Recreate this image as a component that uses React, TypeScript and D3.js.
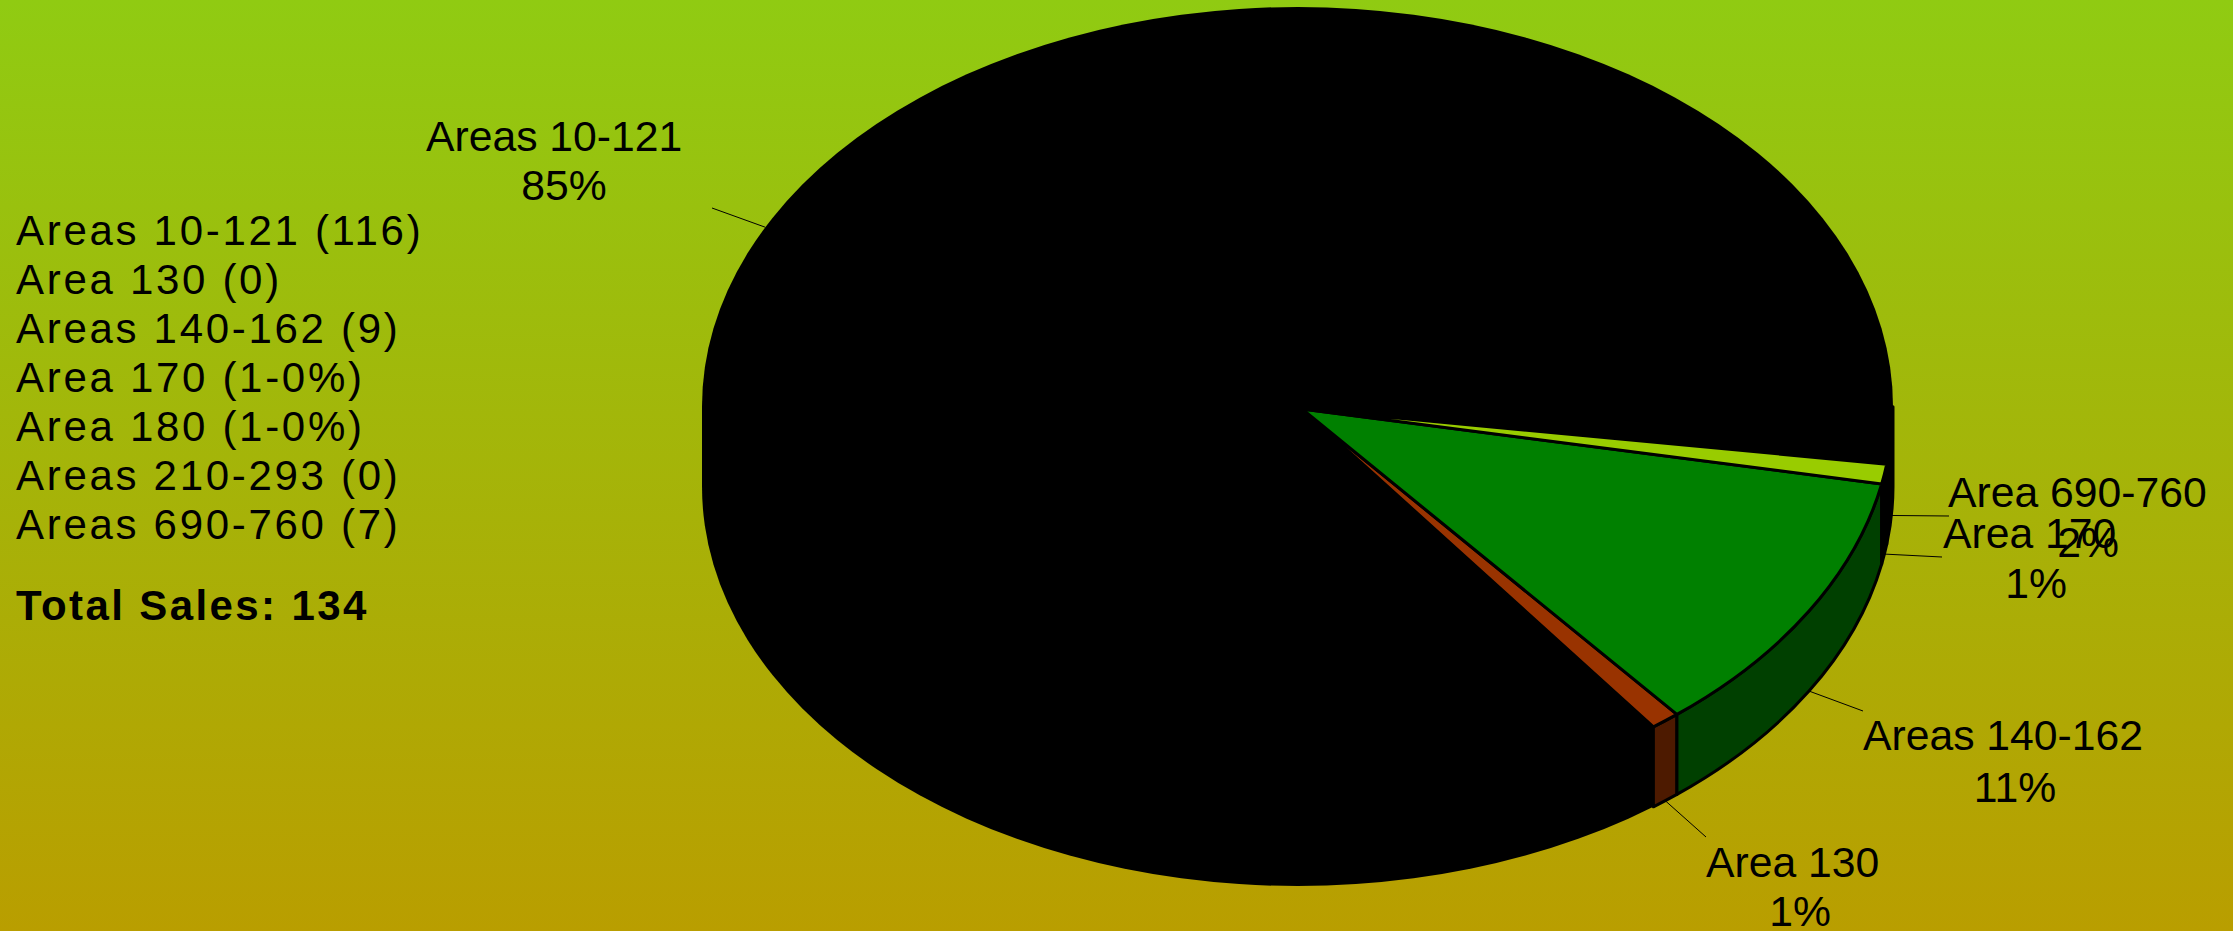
import React from "react";
import * as d3 from "d3";

// Share of sales per slice, in percent, listed anticlockwise around the pie.
const sliceNames = ["Area 130", "Areas 140-162", "Area 170", "Area 690-760", "Areas 10-121"];
const sliceShares = [0.8, 10.9, 0.8, 2.3, 85.2];
const sliceTopColors = ["#993300", "#008000", "#99CC00", "#000000", "#000000"];
const sliceSideColors = ["#4D1A00", "#004000", "#000000", "#000000", "#000000"];

const legendEntries = [
  "Areas 10-121 (116)",
  "Area 130 (0)",
  "Areas 140-162 (9)",
  "Area 170 (1-0%)",
  "Area 180 (1-0%)",
  "Areas 210-293 (0)",
  "Areas 690-760 (7)",
];
const totalLabel = "Total Sales: 134";

const W = 2233;
const H = 931;
const CX = 1297.5;
const CY = 406.5;
const RX = 595.5;
const RY = 399.5;
const DEPTH = 80;
const APEX = [1302, 409];
const START_DEG = 53.3;

// Where each callout sits: end of its leader, name position, percent position.
const calloutLayout: Record<string, { end: number[]; name: number[]; pct: number[] }> = {
  "Area 130": { end: [1706, 837], name: [1706, 877], pct: [1800, 926] },
  "Areas 140-162": { end: [1863, 711], name: [1863, 750], pct: [2015, 802] },
  "Area 170": { end: [1942, 557], name: [1943, 548], pct: [2036, 598] },
  "Area 690-760": { end: [1949, 516], name: [1948, 507], pct: [2088, 557] },
  "Areas 10-121": { end: [712, 208], name: [426, 151], pct: [564, 200] },
};

const rimX = d3.scaleLinear().domain([-1, 1]).range([CX - RX, CX + RX]);
const rimY = d3.scaleLinear().domain([-1, 1]).range([CY - RY, CY + RY]);
const legendY = d3.scaleLinear().domain([0, 6]).range([245, 539]);

// d3 measures from 12 o'clock; the slices run anticlockwise from the start angle.
const startAngle = ((START_DEG + 90) * Math.PI) / 180;
const pieLayout = d3
  .pie<number>()
  .sort(null)
  .startAngle(startAngle)
  .endAngle(startAngle - 2 * Math.PI);
const arcs = pieLayout(sliceShares);

const rim = (a: number, drop = 0): [number, number] => [
  rimX(Math.sin(a)),
  rimY(-Math.cos(a)) + drop,
];

function topPath(a0: number, a1: number) {
  const p0 = rim(a0);
  const p1 = rim(a1);
  const large = Math.abs(a1 - a0) > Math.PI ? 1 : 0;
  return `M${APEX[0]},${APEX[1]}L${p0[0]},${p0[1]}A${RX},${RY} 0 ${large} 0 ${p1[0]},${p1[1]}Z`;
}

function sidePath(a0: number, a1: number) {
  const p0 = rim(a0);
  const p1 = rim(a1);
  const q0 = rim(a0, DEPTH);
  const q1 = rim(a1, DEPTH);
  return `M${p0[0]},${p0[1]}A${RX},${RY} 0 0 0 ${p1[0]},${p1[1]}L${q1[0]},${q1[1]}A${RX},${RY} 0 0 1 ${q0[0]},${q0[1]}Z`;
}

const bodyPath = `M${CX + RX},${CY}L${CX + RX},${CY + DEPTH}A${RX},${RY} 0 0 1 ${CX - RX},${CY + DEPTH}L${CX - RX},${CY}A${RX},${RY} 0 1 1 ${CX + RX},${CY}Z`;

const FONT = "'Liberation Sans', Arial, sans-serif";

export default function App() {
  return (
    <svg
      width={W}
      height={H}
      viewBox={`0 0 ${W} ${H}`}
      style={{ position: "fixed", left: 0, top: 0, display: "block" }}
      fontFamily={FONT}
    >
      <defs>
        <linearGradient id="backdrop" x1="0" y1="0" x2="0" y2="1">
          <stop offset="0" stopColor="#90CB12" />
          <stop offset="1" stopColor="#B99E00" />
        </linearGradient>
      </defs>
      <rect width={W} height={H} fill="url(#backdrop)" />

      <path d={bodyPath} fill="#000" />

      {arcs.slice(0, 4).map((d, i) => (
        <path
          key={`side-${i}`}
          d={sidePath(d.startAngle, d.endAngle)}
          fill={sliceSideColors[i]}
          stroke="#000"
          strokeWidth={3}
          strokeLinejoin="round"
        />
      ))}
      {arcs.slice(0, 3).map((d, i) => (
        <path
          key={`top-${i}`}
          d={topPath(d.startAngle, d.endAngle)}
          fill={sliceTopColors[i]}
          stroke="#000"
          strokeWidth={3}
          strokeLinejoin="round"
        />
      ))}

      {arcs.map((d, i) => {
        const name = sliceNames[i];
        const layout = calloutLayout[name];
        const mid = (d.startAngle + d.endAngle) / 2;
        const front = Math.cos(mid) < 0;
        const from = rim(mid, front ? DEPTH : 0);
        return (
          <g key={name} fill="#000">
            <line
              x1={from[0]}
              y1={from[1]}
              x2={layout.end[0]}
              y2={layout.end[1]}
              stroke="#000"
              strokeWidth={1}
            />
            <text x={layout.name[0]} y={layout.name[1]} fontSize={42.7}>
              {name}
            </text>
            <text x={layout.pct[0]} y={layout.pct[1]} fontSize={42.7} textAnchor="middle">
              {`${Math.round(sliceShares[i])}%`}
            </text>
          </g>
        );
      })}

      {legendEntries.map((entry, i) => (
        <text key={entry} x={16} y={legendY(i)} fontSize={42} letterSpacing={2.7} fill="#000">
          {entry}
        </text>
      ))}
      <text x={16} y={620} fontSize={42} fontWeight="bold" letterSpacing={2.4} fill="#000">
        {totalLabel}
      </text>
    </svg>
  );
}
